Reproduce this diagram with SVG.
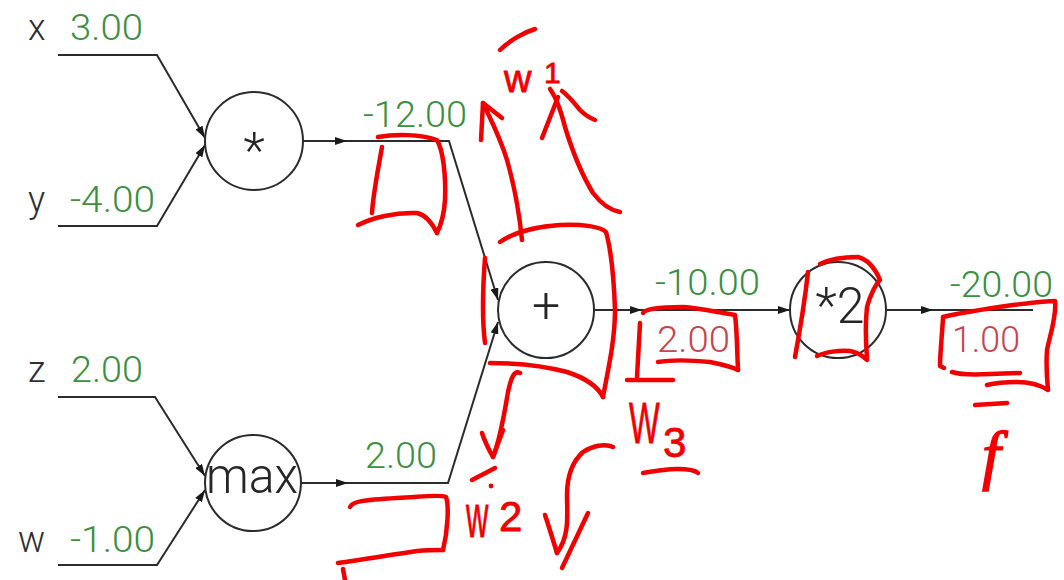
<svg xmlns="http://www.w3.org/2000/svg" width="1064" height="580" viewBox="0 0 1064 580">
  <style>
    .wire { fill: none; stroke: #2b2b2b; stroke-width: 2; }
    .gate { fill: #fff; stroke: #2b2b2b; stroke-width: 2; }
    .op { font-family: Roboto, "Liberation Sans", sans-serif; font-weight: 300; font-size: 50px; fill: #262626; text-anchor: middle; }
    .var { font-family: Roboto, "Liberation Sans", sans-serif; font-weight: 300; font-size: 36px; fill: #2e2e2e; }
    .val { font-family: Roboto, "Liberation Sans", sans-serif; font-weight: 300; font-size: 36px; fill: #3b8f3f; }
    .grad { font-family: Roboto, "Liberation Sans", sans-serif; font-weight: 300; font-size: 36px; fill: #c9434f; }
    .ink { fill: none; stroke: #f20000; stroke-width: 4.5; stroke-linecap: round; stroke-linejoin: round; }
    .hand { font-family: "Liberation Sans", Arial, sans-serif; fill: #f20000; stroke: #f20000; stroke-width: 0.8; stroke-linejoin: round; }
  </style>
  <defs>
    <marker id="tip" viewBox="0 0 12 8" refX="12" refY="4" markerWidth="12" markerHeight="8" markerUnits="userSpaceOnUse" orient="auto">
      <path d="M0,0 L12,4 L0,8 Z" fill="#1a1a1a"/>
    </marker>
    <path id="mid" d="M0,0 L-12,-4 L-12,4 Z" fill="#1a1a1a"/>
  </defs>

  <rect width="1064" height="580" fill="#fff"/>

  <!-- wires between gates -->
  <g id="connectors">
    <path class="wire" d="M58,55 H157 L205,138" marker-end="url(#tip)"/>
    <path class="wire" d="M58,226 H157 L205,145" marker-end="url(#tip)"/>
    <path class="wire" d="M58,397 H155 L205,476" marker-end="url(#tip)"/>
    <path class="wire" d="M58,565 H157 L205,490" marker-end="url(#tip)"/>
    <path class="wire" d="M303,141 H449 L498,300" marker-end="url(#tip)"/>
    <use href="#mid" transform="translate(347,141)"/>
    <path class="wire" d="M301,483 H448 L498,322" marker-end="url(#tip)"/>
    <use href="#mid" transform="translate(348,483)"/>
    <path class="wire" d="M594,310 H790" marker-end="url(#tip)"/>
    <use href="#mid" transform="translate(642,310)"/>
    <path class="wire" d="M886,310 H1033"/>
    <use href="#mid" transform="translate(933,310)"/>
  </g>

  <!-- input variables -->
  <g id="inputs">
    <text class="var" x="28" y="40">x</text>
    <text class="val" x="70" y="40" textLength="73" lengthAdjust="spacingAndGlyphs">3.00</text>
    <text class="var" x="28" y="212">y</text>
    <text class="val" x="70" y="212" textLength="85" lengthAdjust="spacingAndGlyphs">-4.00</text>
    <text class="var" x="28" y="382">z</text>
    <text class="val" x="71" y="382" textLength="72" lengthAdjust="spacingAndGlyphs">2.00</text>
    <text class="var" x="18" y="552">w</text>
    <text class="val" x="70" y="552" textLength="85" lengthAdjust="spacingAndGlyphs">-1.00</text>
  </g>

  <g id="node-mul">
    <circle class="gate" cx="254" cy="141" r="49"/>
    <text class="op" x="254" y="168">*</text>
  </g>
  <g id="node-max">
    <circle class="gate" cx="253" cy="483" r="48"/>
    <text class="op" x="252" y="493" textLength="92" lengthAdjust="spacingAndGlyphs">max</text>
  </g>
  <g id="node-add">
    <circle class="gate" cx="546" cy="310" r="48"/>
    <text class="op" x="546" y="322">+</text>
  </g>
  <g id="node-scale">
    <circle class="gate" cx="838" cy="310" r="48"/>
    <text class="op" x="840" y="323">*2</text>
  </g>

  <!-- forward values and gradients on the wires -->
  <g id="values">
    <text class="val" x="363" y="127" textLength="104" lengthAdjust="spacingAndGlyphs">-12.00</text>
    <text class="val" x="365" y="468" textLength="72" lengthAdjust="spacingAndGlyphs">2.00</text>
    <text class="val" x="655" y="295" textLength="105" lengthAdjust="spacingAndGlyphs">-10.00</text>
    <text class="grad" x="657" y="352" textLength="73" lengthAdjust="spacingAndGlyphs">2.00</text>
    <text class="val" x="950" y="297" textLength="103" lengthAdjust="spacingAndGlyphs">-20.00</text>
    <text class="grad" x="952" y="352" textLength="68" lengthAdjust="spacingAndGlyphs">1.00</text>
  </g>

  <!-- handwritten pen marks -->
  <g id="annotations">
    <!-- bracket under -12.00 -->
    <path class="ink" d="M378,137 C395,134 420,134 437,140 C443,150 446,175 445,200 C444,215 441,225 437,233"/>
    <path class="ink" d="M382,147 C378,170 373,195 372,213"/>
    <path class="ink" d="M358,225 C372,218 395,212 417,213 C427,215 433,225 437,233"/>

    <!-- upward arrow and w1 -->
    <path class="ink" d="M522,240 C520,220 515,188 507,160 C500,137 490,118 483,103"/>
    <path class="ink" d="M481,140 L483,103 L502,118"/>
    <path class="ink" d="M500,50 C510,40 525,32 535,29"/>
    <text class="hand" x="504" y="92" font-size="38">w</text>
    <text class="hand" x="544" y="83" font-size="30">1</text>
    <path class="ink" d="M542,138 L558,97"/>
    <path class="ink" d="M550,89 C558,100 562,115 565,127 C572,150 582,175 593,193 C602,205 610,210 620,212"/>
    <path class="ink" d="M562,91 C566,94 572,100 580,110 C586,116 590,118 595,120"/>

    <!-- bracket round the + gate -->
    <path class="ink" d="M500,242 C510,235 530,227 560,225 C580,224 600,226 606,232 C611,250 614,280 615,310 C615,340 608,370 603,397"/>
    <path class="ink" d="M485,258 C483,285 482,320 485,343"/>
    <path class="ink" d="M490,363 C515,363 545,366 567,372 C585,378 597,385 603,397"/>

    <!-- downward arrow and w2 -->
    <path class="ink" d="M520,373 C514,370 511,378 508,392 C505,410 500,440 493,457"/>
    <path class="ink" d="M482,433 C485,442 489,450 493,457 L503,430"/>
    <path class="ink" d="M472,480 L495,468"/>
    <circle cx="491" cy="486" r="2.4" fill="#f20000"/>
    <text class="hand" font-size="62" stroke-width="2.2" transform="translate(466,537) scale(0.5,1)">w</text>
    <text class="hand" x="499" y="531" font-size="42">2</text>

    <!-- bracket under 2.00 -->
    <path class="ink" d="M350,507 C352,502 360,500 397,498 C420,497 440,494 446,497 C449,505 448,530 443,550"/>
    <path class="ink" d="M338,563 C360,560 390,555 417,551 C428,550 437,550 443,550"/>
    <path class="ink" d="M343,569 L345,580"/>

    <!-- scribble below the + gate -->
    <path class="ink" d="M613,447 C605,443 592,446 583,452 C572,462 567,478 567,495 C567,515 570,535 557,553"/>
    <path class="ink" d="M545,515 C549,527 553,540 557,553"/>
    <path class="ink" d="M588,513 L562,568"/>

    <!-- box round gradient 2.00 and W3 -->
    <path class="ink" d="M643,313 C645,309 660,307 683,307 C700,308 715,312 735,315 C737,330 737,350 738,370"/>
    <path class="ink" d="M658,362 C670,360 690,360 710,362 C720,364 730,366 738,370"/>
    <path class="ink" d="M640,323 L637,377"/>
    <path class="ink" d="M627,380 L673,380"/>
    <text class="hand" font-size="58" stroke-width="2" transform="translate(629,443) scale(0.56,1)">W</text>
    <text class="hand" x="663" y="457" font-size="42">3</text>
    <path class="ink" d="M643,473 C655,471 670,469 677,469 C688,469 695,470 698,473"/>

    <!-- bracket round the *2 gate -->
    <path class="ink" d="M808,272 C806,290 800,330 795,357"/>
    <path class="ink" d="M820,264 C828,260 840,257 858,257 C866,259 874,266 880,280 C876,284 870,295 867,307 C865,325 866,345 867,358"/>
    <path class="ink" d="M817,356 C825,352 840,350 850,351 C857,352 862,355 867,360"/>

    <!-- box round gradient 1.00 and f -->
    <path class="ink" d="M943,317 C955,314 985,309 1013,305 C1030,303 1045,301 1055,301 C1057,315 1050,335 1047,350 C1046,365 1047,380 1048,390 C1040,385 1030,382 1017,382 C1005,382 995,383 987,385"/>
    <path class="ink" d="M943,318 C942,335 940,355 940,366 L944,368"/>
    <path class="ink" d="M952,372 C958,374 970,375 990,374 L1020,373"/>
    <path class="ink" d="M975,405 L1007,403"/>
    <text x="982" y="477" font-size="66" font-family="'Liberation Serif', serif" font-style="italic" fill="#f20000" stroke="#f20000" stroke-width="1.4">f</text>
  </g>
</svg>
